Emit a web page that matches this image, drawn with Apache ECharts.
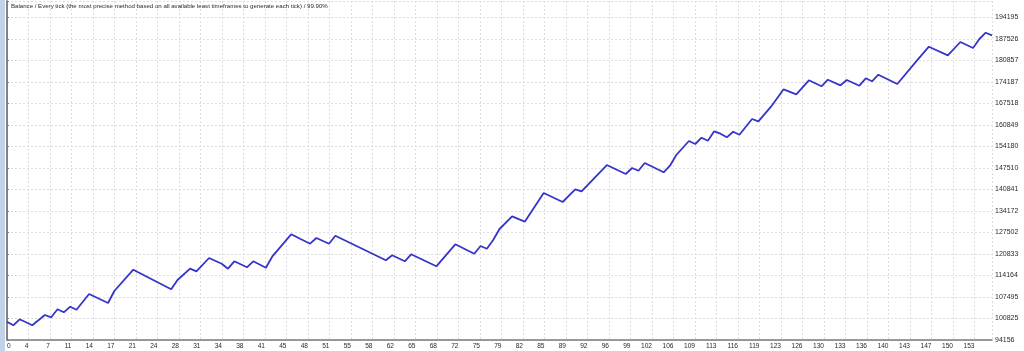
<!DOCTYPE html>
<html>
<head>
<meta charset="utf-8">
<script src="https://cdn.jsdelivr.net/npm/echarts@6/dist/echarts.min.js"></script>
<style>
html,body{margin:0;padding:0;background:#fff;}
#c{width:1024px;height:351px;}
</style>
</head>
<body>
<div id="c"></div>
<script>
var title = 'Balance / Every tick (the most precise method based on all available least timeframes to generate each tick) / 99.90%';
var trades = [0,1,2,4,6,7,8,9,10,11,13,16,17,20,26,27,29,30,32,34,35,36,38,39,41,42,45,48,49,51,52,60,61,63,64,68,71,74,75,76,77,78,80,82,85,88,90,91,95,98,99,100,101,104,105,106,108,109,110,111,112,113,114,115,116,118,119,121,123,125,127,129,130,132,133,135,136,137,138,141,144,146,149,151,153,154,155,156];
var balance = [99833,98716,100577,98716,101911,101198,103679,102749,104486,103555,108425,105633,109356,115963,109883,112768,116273,115467,119592,117824,116273,118569,116708,118569,116583,119996,126944,124028,125796,124028,126510,118879,120430,118569,120740,117018,123842,120926,123315,122477,125176,128588,132528,130853,139755,136964,140903,140283,148441,145649,147510,146673,149061,146177,148224,151543,155886,154955,156909,155979,158895,158150,157034,158771,157840,162710,161997,166526,171923,170372,174715,172854,174901,173164,174808,173040,175337,174405,176452,173567,180609,185138,182470,186596,184734,187526,189480,188674];
var xTickLabels = ['0','4','7','11','14','17','21','24','28','31','34','38','41','45','48','51','55','58','62','65','68','72','75','79','82','85','89','92','96','99','102','106','109','113','116','119','123','126','130','133','136','140','143','147','150','153'];
var yTickLabels = ['94156','100825','107495','114164','120833','127502','134172','140841','147510','154180','160849','167518','174187','180857','187526','194195'];

var X_STEP = 3.405, Y_MIN = 94156, Y_STEP = 6669.3;
var pts = trades.map(function(t,i){return [t, balance[i]];});

var chart = echarts.init(document.getElementById('c'), null, {renderer:'canvas'});
chart.setOption({
  animation:false,
  backgroundColor:'#ffffff',
  title:{text:title,left:11,top:3,padding:0,textStyle:{fontFamily:'Liberation Sans',fontSize:6.1,fontWeight:'normal',color:'#2a2a2a'}},
  grid:{left:7,right:32,top:1,bottom:11,containLabel:false},
  xAxis:{type:'value',min:0,max:156,interval:X_STEP,
    axisLine:{show:true,lineStyle:{color:'#7a7a7a',width:1.5}},
    axisTick:{show:false},
    splitLine:{show:true,lineStyle:{color:'#dedede',type:[2,2],width:1}},
    axisLabel:{fontFamily:'Liberation Sans',fontSize:6.6,color:'#2a2a2a',align:'right',margin:3,alignMinLabel:'left',
      formatter:function(v){var k=Math.round(v/X_STEP);if(Math.abs(v-k*X_STEP)>0.01)return '';return xTickLabels[k]||'';}}
  },
  yAxis:[{type:'value',position:'right',min:Y_MIN,max:199316,interval:Y_STEP,
    axisLine:{show:true,lineStyle:{color:'#7a7a7a',width:1.5}},
    axisTick:{show:true,length:2,lineStyle:{color:'#7a7a7a'}},
    splitLine:{show:true,lineStyle:{color:'#dedede',type:[2,2],width:1}},
    axisLabel:{fontFamily:'Liberation Sans',fontSize:7,color:'#2a2a2a',margin:3,
      formatter:function(v){var k=Math.round((v-Y_MIN)/Y_STEP);if(Math.abs(v-Y_MIN-k*Y_STEP)>1)return '';return yTickLabels[k]||'';}}
  },{type:'value',position:'left',min:Y_MIN,max:199316,
    axisLine:{show:true,lineStyle:{color:'#7a7a7a',width:1.5}},
    axisTick:{show:false},axisLabel:{show:false},splitLine:{show:false}}],
  graphic:[{type:'rect',left:0,top:0,shape:{width:5,height:351},style:{fill:'#c2d3e8'},z:100}],
  series:[{type:'line',data:pts,showSymbol:false,clip:true,
    lineStyle:{color:'#3535c8',width:1.8},itemStyle:{color:'#3535c8'}}]
});
</script>
</body>
</html>
